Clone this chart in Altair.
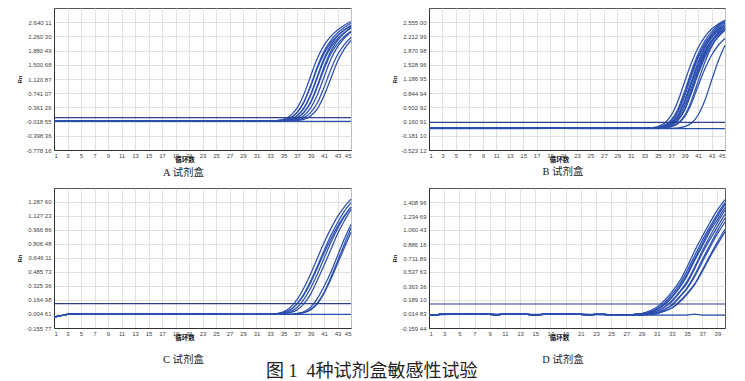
import altair as alt
import pandas as pd

CURVE = "#2b4fae"
THR = "#2c3e8e"
SERIF = "Liberation Serif, Noto Sans CJK SC"
SANS = "Liberation Sans, Arial, sans-serif"
CJK = "Noto Sans CJK SC"

# ---------------- Panel A ----------------
A_y_domain = [-0.77816, 3.01992]
A_y_ticks = [-0.77816, -0.39836, -0.01855, 0.36126, 0.74107, 1.12087, 1.50068, 1.88049, 2.26030, 2.64011]
A_x_domain = [1, 45]
A_x_ticks = [1, 3, 5, 7, 9, 11, 13, 15, 17, 19, 21, 23, 25, 27, 29, 31, 33, 35, 37, 39, 41, 43, 45]
A_threshold = 0.09
A_base_cycles = [1, 4, 8, 12, 16, 20, 24, 28, 32]
A_base_values = [-0.01, -0.005, -0.01, -0.005, -0.01, -0.005, -0.005, 0.0, 0.0]
A_neg_cycles = [1, 8, 16, 24, 32, 38, 45]
A_neg_values = [-0.01, -0.01, -0.005, -0.01, -0.005, -0.01, -0.01]
A_rise_cycles = [33, 34, 35, 36, 37, 38, 39, 40, 41, 42, 43, 44, 45]
A_curves = [
    [0.00, 0.01, 0.04, 0.14, 0.34, 0.70, 1.19, 1.67, 2.02, 2.26, 2.43, 2.56, 2.66],
    [0.00, 0.01, 0.02, 0.08, 0.23, 0.50, 0.94, 1.44, 1.86, 2.15, 2.35, 2.50, 2.61],
    [0.00, 0.00, 0.02, 0.08, 0.22, 0.49, 0.91, 1.40, 1.80, 2.09, 2.28, 2.43, 2.53],
    [0.00, 0.00, 0.01, 0.04, 0.14, 0.34, 0.70, 1.19, 1.67, 2.02, 2.26, 2.43, 2.56],
    [0.00, 0.00, 0.01, 0.04, 0.14, 0.33, 0.68, 1.15, 1.62, 1.96, 2.19, 2.36, 2.48],
    [0.00, 0.00, 0.00, 0.02, 0.08, 0.23, 0.50, 0.94, 1.44, 1.86, 2.15, 2.35, 2.50],
    [0.00, 0.00, 0.00, 0.02, 0.08, 0.22, 0.48, 0.90, 1.38, 1.79, 2.06, 2.26, 2.40],
    [0.00, 0.00, 0.00, 0.01, 0.04, 0.14, 0.34, 0.69, 1.17, 1.64, 1.98, 2.21, 2.38],
    [0.00, 0.00, 0.00, 0.00, 0.02, 0.08, 0.22, 0.48, 0.89, 1.37, 1.77, 2.04, 2.23],
    [0.00, 0.00, 0.00, 0.00, 0.01, 0.04, 0.13, 0.32, 0.67, 1.13, 1.59, 1.92, 2.15],
]

# ---------------- Panel B ----------------
B_y_domain = [-0.52312, 2.89701]
B_y_ticks = [-0.52312, -0.18110, 0.16091, 0.50292, 0.84494, 1.18695, 1.52896, 1.87098, 2.21299, 2.55500]
B_x_domain = [1, 45]
B_x_ticks = [1, 3, 5, 7, 9, 11, 13, 15, 17, 19, 21, 23, 25, 27, 29, 31, 33, 35, 37, 39, 41, 43, 45]
B_threshold = 0.14
B_base_cycles = [1, 5, 10, 15, 20, 25, 30, 33]
B_base_values = [0.0, -0.005, 0.0, 0.005, 0.0, 0.0, 0.0, 0.0]
B_neg_cycles = [1, 10, 20, 30, 38, 45]
B_neg_values = [-0.01, -0.01, -0.005, -0.01, -0.01, -0.01]
B_rise_cycles = [34, 35, 36, 37, 38, 39, 40, 41, 42, 43, 44, 45]
B_curves = [
    [0.01, 0.04, 0.12, 0.31, 0.65, 1.12, 1.57, 1.94, 2.20, 2.39, 2.51, 2.60],
    [0.00, 0.02, 0.07, 0.20, 0.46, 0.89, 1.37, 1.79, 2.10, 2.32, 2.48, 2.59],
    [0.00, 0.02, 0.07, 0.19, 0.44, 0.85, 1.32, 1.72, 2.02, 2.23, 2.38, 2.49],
    [0.00, 0.02, 0.06, 0.16, 0.38, 0.77, 1.25, 1.69, 2.03, 2.27, 2.45, 2.57],
    [0.00, 0.01, 0.04, 0.12, 0.31, 0.66, 1.13, 1.59, 1.96, 2.22, 2.41, 2.54],
    [0.00, 0.01, 0.04, 0.12, 0.30, 0.65, 1.11, 1.56, 1.92, 2.18, 2.36, 2.49],
    [0.00, 0.01, 0.04, 0.11, 0.29, 0.63, 1.07, 1.51, 1.86, 2.11, 2.29, 2.41],
    [0.00, 0.01, 0.03, 0.09, 0.25, 0.55, 0.98, 1.44, 1.82, 2.10, 2.29, 2.43],
    [0.00, 0.00, 0.02, 0.07, 0.20, 0.46, 0.89, 1.37, 1.79, 2.10, 2.32, 2.48],
    [0.00, 0.00, 0.02, 0.07, 0.20, 0.45, 0.87, 1.34, 1.75, 2.06, 2.27, 2.43],
    [0.00, 0.00, 0.02, 0.07, 0.19, 0.44, 0.85, 1.30, 1.70, 2.00, 2.20, 2.36],
    [0.00, 0.00, 0.01, 0.04, 0.12, 0.31, 0.66, 1.13, 1.59, 1.96, 2.22, 2.41],
    [0.00, 0.00, 0.01, 0.04, 0.11, 0.28, 0.59, 1.02, 1.43, 1.76, 2.00, 2.17],
    [0.00, 0.00, 0.00, 0.00, 0.01, 0.04, 0.12, 0.32, 0.67, 1.15, 1.62, 2.00],
]

# ---------------- Panel C ----------------
C_y_domain = [-0.15577, 1.44797]
C_y_ticks = [-0.15577, 0.00461, 0.16498, 0.32536, 0.48573, 0.64611, 0.80648, 0.96686, 1.12723, 1.28760]
C_x_domain = [1, 45]
C_x_ticks = [1, 3, 5, 7, 9, 11, 13, 15, 17, 19, 21, 23, 25, 27, 29, 31, 33, 35, 37, 39, 41, 43, 45]
C_threshold = 0.124
C_base_cycles = [1, 2, 3, 5, 8, 12, 16, 20, 24, 28, 32]
C_base_values = [-0.03, -0.015, 0.0, 0.01, 0.01, 0.01, 0.008, 0.005, 0.005, 0.0, 0.0]
C_neg_cycles = [1, 2, 3, 5, 10, 20, 30, 40, 45]
C_neg_values = [-0.03, -0.015, 0.0, 0.01, 0.01, 0.005, 0.0, 0.0, 0.0]
C_rise_cycles = [33, 34, 35, 36, 37, 38, 39, 40, 41, 42, 43, 44, 45]
C_curves = [
    [0.00, 0.01, 0.03, 0.08, 0.17, 0.30, 0.46, 0.64, 0.82, 0.98, 1.12, 1.23, 1.32],
    [0.00, 0.01, 0.02, 0.05, 0.12, 0.23, 0.38, 0.55, 0.73, 0.90, 1.05, 1.18, 1.28],
    [0.00, 0.00, 0.02, 0.05, 0.12, 0.22, 0.36, 0.53, 0.70, 0.86, 1.01, 1.13, 1.23],
    [0.00, 0.00, 0.01, 0.03, 0.08, 0.17, 0.30, 0.46, 0.64, 0.82, 0.98, 1.12, 1.23],
    [0.00, 0.00, 0.01, 0.02, 0.05, 0.12, 0.23, 0.39, 0.56, 0.74, 0.92, 1.07, 1.20],
    [0.00, 0.00, 0.00, 0.00, 0.01, 0.03, 0.08, 0.18, 0.32, 0.48, 0.67, 0.86, 1.03],
    [0.00, 0.00, 0.00, 0.00, 0.01, 0.02, 0.06, 0.13, 0.25, 0.42, 0.61, 0.80, 0.99],
    [0.00, 0.00, 0.00, 0.00, 0.01, 0.02, 0.05, 0.12, 0.24, 0.40, 0.58, 0.76, 0.94],
]

# ---------------- Panel D ----------------
D_y_domain = [-0.15944, 1.58323]
D_y_ticks = [-0.15944, 0.01483, 0.18910, 0.36336, 0.53763, 0.71189, 0.88616, 1.06043, 1.23469, 1.40896]
D_x_domain = [1, 40]
D_x_ticks = [1, 3, 5, 7, 9, 11, 13, 15, 17, 19, 21, 23, 25, 27, 29, 31, 33, 35, 37, 39]
D_threshold = 0.139
D_base_cycles = [1, 2, 3, 4, 5, 6, 7, 8, 9, 10, 11, 12, 13, 14, 15, 16, 17, 18, 19, 20, 21, 22, 23, 24, 25, 26]
D_base_values = [0.0, 0.005, 0.015, 0.01, 0.02, 0.01, 0.015, 0.02, 0.01, 0.005, 0.015, 0.01, 0.015,
                 0.01, 0.005, 0.01, 0.015, 0.02, 0.015, 0.01, 0.01, 0.005, 0.01, 0.01, 0.005, 0.005]
D_neg_cycles = [1, 4, 8, 12, 16, 20, 24, 28, 32, 35, 36, 37, 40]
D_neg_values = [0.0, 0.01, 0.015, 0.01, 0.01, 0.015, 0.005, 0.0, 0.0, 0.0, 0.012, 0.0, 0.0]
D_rise_cycles = [27, 28, 29, 30, 31, 32, 33, 34, 35, 36, 37, 38, 39, 40]
D_curves = [
    [0.00, 0.01, 0.02, 0.05, 0.10, 0.18, 0.29, 0.42, 0.60, 0.80, 0.98, 1.15, 1.31, 1.44],
    [0.00, 0.01, 0.02, 0.04, 0.08, 0.15, 0.26, 0.38, 0.55, 0.74, 0.93, 1.10, 1.26, 1.40],
    [0.00, 0.01, 0.02, 0.03, 0.07, 0.13, 0.23, 0.35, 0.51, 0.70, 0.89, 1.07, 1.23, 1.38],
    [0.00, 0.00, 0.02, 0.03, 0.07, 0.13, 0.22, 0.34, 0.49, 0.68, 0.86, 1.04, 1.19, 1.34],
    [0.00, 0.00, 0.01, 0.02, 0.05, 0.10, 0.18, 0.29, 0.42, 0.60, 0.80, 0.98, 1.15, 1.31],
    [0.00, 0.00, 0.01, 0.02, 0.05, 0.10, 0.17, 0.28, 0.40, 0.58, 0.77, 0.94, 1.10, 1.26],
    [0.00, 0.00, 0.01, 0.02, 0.03, 0.07, 0.13, 0.23, 0.34, 0.50, 0.69, 0.87, 1.05, 1.21],
    [0.00, 0.00, 0.01, 0.01, 0.03, 0.07, 0.12, 0.22, 0.33, 0.48, 0.66, 0.84, 1.01, 1.16],
    [0.00, 0.00, 0.00, 0.01, 0.02, 0.05, 0.09, 0.17, 0.27, 0.39, 0.56, 0.74, 0.91, 1.07],
    [0.00, 0.00, 0.00, 0.01, 0.02, 0.05, 0.09, 0.16, 0.26, 0.38, 0.54, 0.72, 0.88, 1.04],
]

CAPTIONS = ["A 试剂盒", "B 试剂盒", "C 试剂盒", "D 试剂盒"]
MAIN_CAPTION = "图 1\u00a0\u00a04种试剂盒敏感性试验"

LABEL_EXPR = "replace(slice(datum.label, 0, -2) + ' ' + slice(datum.label, -2), '\u2212', '-')"


def panel(caption, base_c, base_v, neg_c, neg_v, rise_c, curves, thr,
          ydom, yticks, xdom, xticks, w, h, cap_dx, cap_offset):
    rows = []
    for i, cv in enumerate(curves):
        for c, v in zip(base_c, base_v):
            rows.append({"curve": f"s{i}", "cycle": c, "rn": v})
        for c, v in zip(rise_c, cv):
            rows.append({"curve": f"s{i}", "cycle": c, "rn": v})
    for c, v in zip(neg_c, neg_v):
        rows.append({"curve": "neg", "cycle": c, "rn": v})
    df = pd.DataFrame(rows)

    x = alt.X("cycle:Q",
              scale=alt.Scale(domain=xdom, nice=False, zero=False),
              axis=alt.Axis(values=xticks, format="d", labelPadding=2, labelOverlap=False,
                            title="循环数", titleX=w / 2 - 18, titleY=9,
                            titleBaseline="middle", titleFontWeight="bold",
                            titleFont=CJK, titleFontSize=6.5))
    y = alt.Y("rn:Q",
              scale=alt.Scale(domain=ydom, nice=False, zero=False),
              axis=alt.Axis(values=yticks, format=".5f", labelExpr=LABEL_EXPR,
                            labelPadding=3, labelOverlap=False,
                            title="Rn", titleX=-35, titleY=h / 2, titleAngle=270,
                            titleBaseline="middle", titleFont=SANS, titleFontSize=6))
    lines = alt.Chart(df).mark_line(color=CURVE, strokeWidth=1.25, interpolate="monotone").encode(
        x=x, y=y, detail="curve:N")
    rule = alt.Chart(pd.DataFrame({"rn": [thr]})).mark_rule(color=THR, strokeWidth=1.2).encode(y=y)
    return alt.layer(lines, rule).properties(
        width=w, height=h,
        title=alt.TitleParams(text=caption, orient="bottom", anchor="middle", frame="group",
                              baseline="middle", dx=cap_dx, offset=cap_offset,
                              font=SERIF, fontSize=10.5, fontWeight="normal", color="#222"))


pA = panel(CAPTIONS[0], A_base_cycles, A_base_values, A_neg_cycles, A_neg_values, A_rise_cycles,
           A_curves, A_threshold, A_y_domain, A_y_ticks, A_x_domain, A_x_ticks, 297, 142, -19, 10)
pB = panel(CAPTIONS[1], B_base_cycles, B_base_values, B_neg_cycles, B_neg_values, B_rise_cycles,
           B_curves, B_threshold, B_y_domain, B_y_ticks, B_x_domain, B_x_ticks, 296, 142, -14, 9)
pC = panel(CAPTIONS[2], C_base_cycles, C_base_values, C_neg_cycles, C_neg_values, C_rise_cycles,
           C_curves, C_threshold, C_y_domain, C_y_ticks, C_x_domain, C_x_ticks, 297, 140, -19, 19)
pD = panel(CAPTIONS[3], D_base_cycles, D_base_values, D_neg_cycles, D_neg_values, D_rise_cycles,
           D_curves, D_threshold, D_y_domain, D_y_ticks, D_x_domain, D_x_ticks, 296, 140, -14, 19)

chart = alt.concat(pA, pB, pC, pD, columns=2, spacing={"row": 38, "column": 78},
                   bounds="flush").resolve_scale(
    x="independent", y="independent"
).properties(
    title=alt.TitleParams(text=MAIN_CAPTION, orient="bottom", anchor="middle", frame="bounds",
                          baseline="middle", dx=0, offset=6, font=SERIF, fontSize=18,
                          fontWeight="normal", color="#222"),
    padding={"left": 15, "top": 7, "right": 5, "bottom": 0},
    background="white",
).configure_view(
    stroke="#555", strokeWidth=1
).configure_axis(
    labelFont=SANS, labelFontSize=6, labelColor="#444", ticks=False,
    grid=True, gridColor="#d9d9d9", gridWidth=0.8,
    domainColor="#333", domainWidth=1, titleColor="#111"
)

chart.save("out.html", embed_options={"renderer": "svg", "actions": False})
